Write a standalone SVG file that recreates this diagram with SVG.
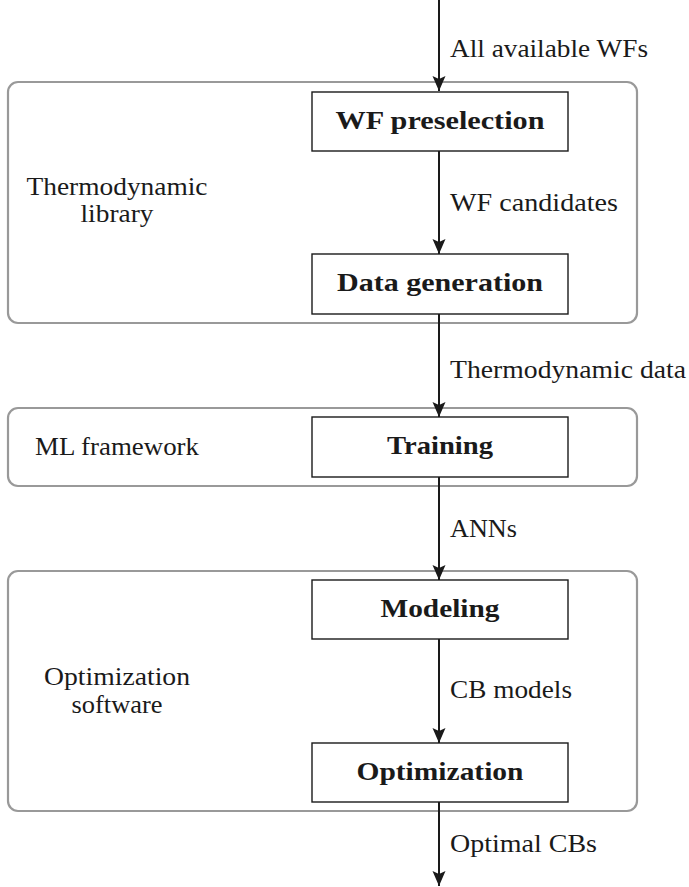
<svg xmlns="http://www.w3.org/2000/svg" width="689" height="887" viewBox="0 0 689 887">
<style>
.grp{fill:none;stroke:#999;stroke-width:2.2}
.box{fill:#fff;stroke:#1a1a1a;stroke-width:1.4}
.lbl{font-family:"Liberation Serif","Times New Roman",serif;font-size:26px;fill:#1a1a1a}
.bold{font-family:"Liberation Serif","Times New Roman",serif;font-size:26px;font-weight:bold;fill:#1a1a1a}
.edge{stroke:#1a1a1a;stroke-width:2;fill:none}
</style>
<defs>
<marker id="ah" markerUnits="userSpaceOnUse" markerWidth="15" markerHeight="14" viewBox="0 0 15 13" refX="15" refY="6.5" orient="auto">
<path d="M0,0 L15,6.5 L0,13 L3,6.5 Z" fill="#1a1a1a"/>
</marker>
</defs>
<g id="group-thermo">
<rect class="grp" x="8" y="82" width="629" height="241" rx="10"/>
<text class="lbl" x="117" y="195" text-anchor="middle" textLength="181" lengthAdjust="spacingAndGlyphs">Thermodynamic</text>
<text class="lbl" x="117" y="222" text-anchor="middle" textLength="73" lengthAdjust="spacingAndGlyphs">library</text>
</g>
<g id="group-ml">
<rect class="grp" x="8" y="408" width="629" height="78" rx="10"/>
<text class="lbl" x="35" y="455" textLength="164" lengthAdjust="spacingAndGlyphs">ML framework</text>
</g>
<g id="group-opt">
<rect class="grp" x="8" y="571" width="629" height="240" rx="10"/>
<text class="lbl" x="117" y="685" text-anchor="middle" textLength="146" lengthAdjust="spacingAndGlyphs">Optimization</text>
<text class="lbl" x="117" y="713" text-anchor="middle" textLength="91" lengthAdjust="spacingAndGlyphs">software</text>
</g>
<g id="node-preselection">
<rect class="box" x="312" y="92" width="256" height="59"/>
<text class="bold" x="440" y="129" text-anchor="middle" textLength="209" lengthAdjust="spacingAndGlyphs">WF preselection</text>
</g>
<g id="node-datagen">
<rect class="box" x="312" y="254" width="256" height="60"/>
<text class="bold" x="440" y="291" text-anchor="middle" textLength="206" lengthAdjust="spacingAndGlyphs">Data generation</text>
</g>
<g id="node-training">
<rect class="box" x="312" y="417" width="256" height="60"/>
<text class="bold" x="440" y="454" text-anchor="middle" textLength="106" lengthAdjust="spacingAndGlyphs">Training</text>
</g>
<g id="node-modeling">
<rect class="box" x="312" y="580" width="256" height="59"/>
<text class="bold" x="440" y="617" text-anchor="middle" textLength="119" lengthAdjust="spacingAndGlyphs">Modeling</text>
</g>
<g id="node-optimization">
<rect class="box" x="312" y="743" width="256" height="59"/>
<text class="bold" x="440" y="780" text-anchor="middle" textLength="167" lengthAdjust="spacingAndGlyphs">Optimization</text>
</g>
<g id="connectors">
<line class="edge" x1="439" y1="0" x2="439" y2="91" marker-end="url(#ah)"/>
<line class="edge" x1="439" y1="151" x2="439" y2="254" marker-end="url(#ah)"/>
<line class="edge" x1="439" y1="314" x2="439" y2="417" marker-end="url(#ah)"/>
<line class="edge" x1="439" y1="477" x2="439" y2="580" marker-end="url(#ah)"/>
<line class="edge" x1="439" y1="639" x2="439" y2="743" marker-end="url(#ah)"/>
<line class="edge" x1="439" y1="802" x2="439" y2="886" marker-end="url(#ah)"/>
<text class="lbl" x="450" y="57" textLength="198" lengthAdjust="spacingAndGlyphs">All available WFs</text>
<text class="lbl" x="450" y="211" textLength="168" lengthAdjust="spacingAndGlyphs">WF candidates</text>
<text class="lbl" x="450" y="378" textLength="236" lengthAdjust="spacingAndGlyphs">Thermodynamic data</text>
<text class="lbl" x="450" y="537" textLength="67" lengthAdjust="spacingAndGlyphs">ANNs</text>
<text class="lbl" x="450" y="698" textLength="122" lengthAdjust="spacingAndGlyphs">CB models</text>
<text class="lbl" x="450" y="852" textLength="147" lengthAdjust="spacingAndGlyphs">Optimal CBs</text>
</g>
</svg>
